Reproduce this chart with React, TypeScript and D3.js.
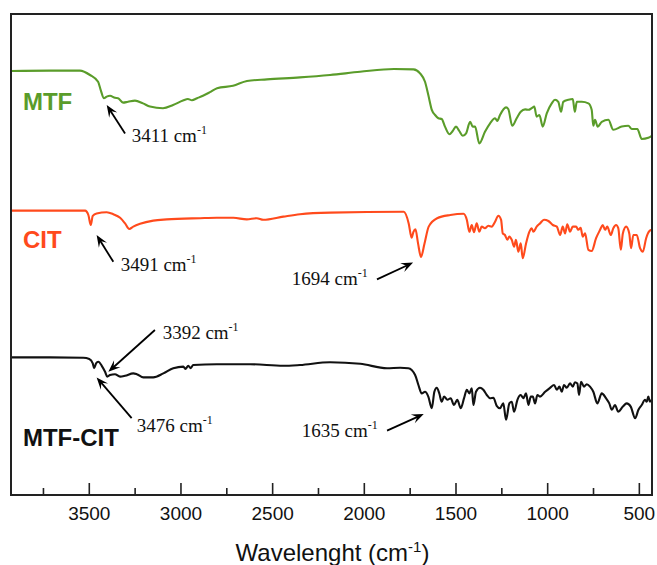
import React from "react";
import * as d3 from "d3";

// ---------- data (wavenumber cm-1, transmittance a.u. with vertical offsets) ----------
const MTF_SPECTRUM: [number, number][] = [
  [3927, 106.0], [3714, 106.1], [3551, 106.1], [3496, 105.0], [3452, 103.3], [3438, 101.3],
  [3420, 99.2], [3405, 99.6], [3387, 99.8], [3360, 99.3], [3343, 99.2], [3316, 98.1],
  [3289, 98.3], [3251, 98.6], [3207, 97.9], [3169, 97.1], [3098, 96.7], [3043, 97.5],
  [2989, 98.6], [2962, 99.0], [2940, 98.7], [2912, 99.2], [2880, 99.8], [2842, 100.7],
  [2803, 101.7], [2716, 102.3], [2640, 103.5], [2531, 103.9], [2351, 104.4], [2187, 105.0],
  [2023, 105.8], [1838, 106.5], [1732, 106.4], [1696, 105.4], [1669, 103.3], [1651, 100.0],
  [1632, 96.3], [1614, 95.0], [1596, 94.2], [1578, 94.0], [1560, 92.1], [1536, 90.2],
  [1518, 91.0], [1500, 92.1], [1482, 91.0], [1463, 89.8], [1445, 90.4], [1423, 93.3],
  [1409, 92.1], [1396, 92.1], [1373, 87.9], [1342, 90.8], [1314, 92.9], [1287, 94.2],
  [1275, 93.5], [1260, 95.0], [1227, 96.9], [1215, 96.5], [1193, 92.3], [1169, 94.2],
  [1147, 95.8], [1123, 96.4], [1105, 96.3], [1087, 96.7], [1073, 97.1], [1060, 94.6],
  [1045, 95.0], [1027, 92.1], [1005, 95.4], [978, 97.9], [960, 98.8], [942, 98.3],
  [927, 95.8], [915, 98.3], [887, 98.8], [863, 99.0], [852, 95.8], [841, 98.3],
  [814, 98.3], [778, 97.9], [760, 96.3], [751, 92.3], [742, 93.8], [727, 92.1],
  [705, 93.3], [669, 93.8], [642, 91.3], [596, 92.1], [560, 92.3], [541, 91.5],
  [511, 91.5], [487, 89.0], [451, 89.3], [432, 89.8],
];

const CIT_SPECTRUM: [number, number][] = [
  [3927, 71.1], [3523, 71.1], [3505, 70.0], [3492, 67.5], [3481, 69.8], [3460, 70.4],
  [3405, 70.7], [3369, 70.2], [3332, 69.3], [3305, 67.9], [3282, 66.5], [3260, 67.1],
  [3223, 67.8], [3151, 68.6], [3078, 68.9], [2896, 69.2], [2805, 69.3], [2714, 69.3],
  [2641, 68.9], [2587, 69.2], [2551, 68.8], [2442, 69.6], [2351, 70.2], [2187, 70.6],
  [1785, 70.8], [1758, 67.9], [1742, 64.3], [1732, 65.8], [1721, 66.4], [1707, 62.9],
  [1691, 59.5], [1672, 62.8], [1649, 67.1], [1603, 69.2], [1531, 70.0], [1459, 70.3],
  [1441, 68.8], [1427, 65.8], [1414, 67.5], [1402, 65.7], [1387, 67.9], [1373, 65.8],
  [1360, 67.1], [1342, 66.7], [1324, 67.3], [1305, 67.1], [1287, 68.3], [1269, 69.8],
  [1254, 68.8], [1245, 65.4], [1233, 65.0], [1220, 63.8], [1209, 64.6], [1196, 63.8],
  [1183, 62.1], [1173, 63.8], [1160, 60.8], [1147, 62.9], [1136, 59.2], [1118, 62.9],
  [1100, 65.8], [1087, 66.7], [1078, 65.8], [1060, 67.1], [1042, 67.9], [1020, 68.8],
  [996, 68.5], [972, 67.5], [950, 67.1], [932, 65.0], [918, 67.1], [905, 65.4],
  [893, 67.7], [878, 65.8], [863, 67.1], [845, 67.1], [833, 66.3], [820, 66.8],
  [809, 64.6], [796, 65.4], [778, 61.3], [760, 61.0], [736, 64.2], [714, 66.3],
  [700, 67.5], [687, 66.3], [675, 67.1], [656, 65.0], [642, 66.7], [627, 67.5],
  [615, 66.7], [601, 61.3], [590, 65.4], [572, 67.1], [555, 65.4], [545, 61.7],
  [533, 65.0], [514, 65.0], [496, 61.7], [481, 60.8], [463, 64.2], [445, 66.0],
  [432, 66.3],
];

const MTF_CIT_SPECTRUM: [number, number][] = [
  [3927, 34.4], [3714, 34.4], [3533, 34.3], [3500, 34.0], [3481, 32.9], [3474, 31.7],
  [3463, 32.9], [3451, 33.3], [3432, 32.3], [3414, 30.8], [3402, 29.6], [3387, 30.0],
  [3360, 30.2], [3332, 29.6], [3305, 29.8], [3260, 30.4], [3241, 30.2], [3205, 29.4],
  [3151, 29.4], [3096, 30.4], [3042, 31.7], [2987, 32.1], [2976, 31.5], [2960, 32.3],
  [2947, 31.7], [2933, 32.5], [2805, 32.7], [2623, 32.7], [2442, 32.3], [2351, 32.5],
  [2187, 33.2], [2022, 32.8], [1876, 31.7], [1805, 31.8], [1760, 31.7], [1723, 30.0],
  [1705, 27.5], [1687, 25.4], [1669, 25.8], [1651, 24.6], [1632, 21.7], [1618, 25.8],
  [1605, 26.8], [1591, 25.4], [1578, 23.3], [1565, 24.6], [1547, 23.8], [1529, 24.2],
  [1511, 22.5], [1493, 23.8], [1474, 21.7], [1456, 24.2], [1441, 26.3], [1427, 25.4],
  [1414, 26.7], [1405, 22.5], [1391, 25.8], [1369, 26.8], [1351, 26.3], [1332, 25.0],
  [1314, 24.2], [1296, 24.3], [1278, 22.3], [1260, 21.7], [1242, 22.9], [1227, 18.8],
  [1209, 22.9], [1196, 23.3], [1183, 20.8], [1165, 23.8], [1147, 25.0], [1133, 24.2],
  [1118, 25.4], [1105, 22.5], [1092, 24.6], [1081, 24.6], [1069, 22.9], [1056, 25.0],
  [1042, 24.6], [1014, 25.8], [987, 26.8], [965, 27.5], [950, 26.3], [936, 27.1],
  [923, 25.8], [911, 27.5], [896, 26.8], [878, 27.9], [863, 27.1], [851, 28.2],
  [838, 27.9], [829, 25.0], [818, 28.3], [802, 27.1], [787, 27.7], [769, 27.1],
  [751, 25.8], [729, 22.9], [705, 25.4], [682, 24.2], [664, 22.9], [650, 21.3],
  [633, 22.5], [615, 20.8], [590, 22.1], [569, 22.9], [547, 22.1], [523, 19.2],
  [505, 21.3], [487, 22.5], [469, 23.8], [460, 23.3], [451, 24.6], [442, 23.3],
  [432, 23.8],
];

const SERIES_NAMES = ["MTF", "CIT", "MTF-CIT"];
const SERIES_COLORS = ["#5a9c2a", "#ff4a1c", "#111111"];
const SERIES_LABEL_ANCHORS: [number, number][] = [[3862, 96.25], [3862, 61.75], [3862, 12.25]];

const MAJOR_TICKS = [3500, 3000, 2500, 2000, 1500, 1000, 500];
const MINOR_TICKS = [3750, 3250, 2750, 2250, 1750, 1250, 750];

// annotations: label, text anchor, arrow tail, arrow tip (wavenumber, value)
const PEAK_LABELS = ["3411", "3491", "1694", "3392", "3476", "1635"];
const PEAK_TEXT: [number, number][] = [[3269, 88.3], [3329, 56.1], [2396, 52.5], [3100, 38.9], [3241, 15.8], [2341, 14.6]];
const PEAK_TAIL: [number, number][] = [[3305, 90.4], [3369, 58.3], [1931, 53.9], [3142, 41.25], [3269, 19.2], [1876, 16.1]];
const PEAK_TIP: [number, number][] = [[3405, 97.5], [3460, 65.0], [1734, 58.1], [3396, 30.8], [3460, 29.4], [1676, 20.25]];

const X_DOMAIN: [number, number] = [3927, 431];
const Y_DOMAIN: [number, number] = [0, 120.25];

// ---------- layout ----------
const W = 657;
const H = 565;
const M = { left: 11, right: 5, top: 14, bottom: 70 };

export default function App() {
  const x = d3.scaleLinear().domain(X_DOMAIN).range([M.left, W - M.right]);
  const y = d3.scaleLinear().domain(Y_DOMAIN).range([H - M.bottom, M.top]);
  const line = d3
    .line<[number, number]>()
    .x((d) => x(d[0]))
    .y((d) => y(d[1]))
    .curve(d3.curveMonotoneX);
  const spectra = [MTF_SPECTRUM, CIT_SPECTRUM, MTF_CIT_SPECTRUM];
  const x0 = M.left;
  const x1 = W - M.right;
  const y0 = M.top;
  const y1 = H - M.bottom;
  const serif = "'Liberation Serif', 'Times New Roman', serif";
  const sans = "'Liberation Sans', Arial, sans-serif";

  const arrow = (tail: [number, number], tip: [number, number]) => {
    const tx = x(tail[0]);
    const ty = y(tail[1]);
    const hx = x(tip[0]);
    const hy = y(tip[1]);
    const ang = Math.atan2(hy - ty, hx - tx);
    const len = 12;
    const half = 4.8;
    const bx = hx - len * Math.cos(ang);
    const by = hy - len * Math.sin(ang);
    const px = -Math.sin(ang);
    const py = Math.cos(ang);
    const head = `M${hx},${hy}L${bx + half * px},${by + half * py}L${hx - 0.6 * len * Math.cos(ang)},${hy - 0.6 * len * Math.sin(ang)}L${bx - half * px},${by - half * py}Z`;
    return (
      <g>
        <line x1={tx} y1={ty} x2={hx - 5 * Math.cos(ang)} y2={hy - 5 * Math.sin(ang)} stroke="#000" strokeWidth={1.8} />
        <path d={head} fill="#000" />
      </g>
    );
  };

  return (
    <svg width={W} height={H} style={{ position: "absolute", left: 0, top: 0, background: "#fff" }}>
      <rect x={0} y={0} width={W} height={H} fill="#fff" />
      {spectra.map((s, i) => (
        <path key={i} d={line(s) || ""} fill="none" stroke={SERIES_COLORS[i]} strokeWidth={2.1} strokeLinejoin="round" />
      ))}
      {/* frame */}
      <rect x={x0} y={y0} width={x1 - x0} height={y1 - y0} fill="none" stroke="#222" strokeWidth={2} />
      {MAJOR_TICKS.map((t) => (
        <line key={"M" + t} x1={x(t)} x2={x(t)} y1={y1} y2={y1 - 12} stroke="#222" strokeWidth={1.6} />
      ))}
      {MINOR_TICKS.map((t) => (
        <line key={"m" + t} x1={x(t)} x2={x(t)} y1={y1} y2={y1 - 7} stroke="#222" strokeWidth={1.6} />
      ))}
      {MAJOR_TICKS.map((t) => (
        <text key={"L" + t} x={x(t)} y={y1 + 25} textAnchor="middle" fontFamily={sans} fontSize={19} fill="#111">
          {t}
        </text>
      ))}
      <text x={(x0 + x1) / 2 + 1} y={H - 4} textAnchor="middle" fontFamily={sans} fontSize={24} fill="#111">
        Wavelenght (cm
        <tspan dy={-9} fontSize={15}>-1</tspan>
        <tspan dy={9}>)</tspan>
      </text>
      {SERIES_NAMES.map((n, i) => (
        <text key={n} x={x(SERIES_LABEL_ANCHORS[i][0])} y={y(SERIES_LABEL_ANCHORS[i][1])} fontFamily={sans} fontWeight="bold" fontSize={24} fill={SERIES_COLORS[i]}>
          {n}
        </text>
      ))}
      {PEAK_LABELS.map((p, i) => (
        <g key={p}>
          {arrow(PEAK_TAIL[i], PEAK_TIP[i])}
          <text x={x(PEAK_TEXT[i][0])} y={y(PEAK_TEXT[i][1])} fontFamily={serif} fontSize={19} fill="#111">
            {p} cm
            <tspan dy={-8} fontSize={12}>-1</tspan>
          </text>
        </g>
      ))}
    </svg>
  );
}
